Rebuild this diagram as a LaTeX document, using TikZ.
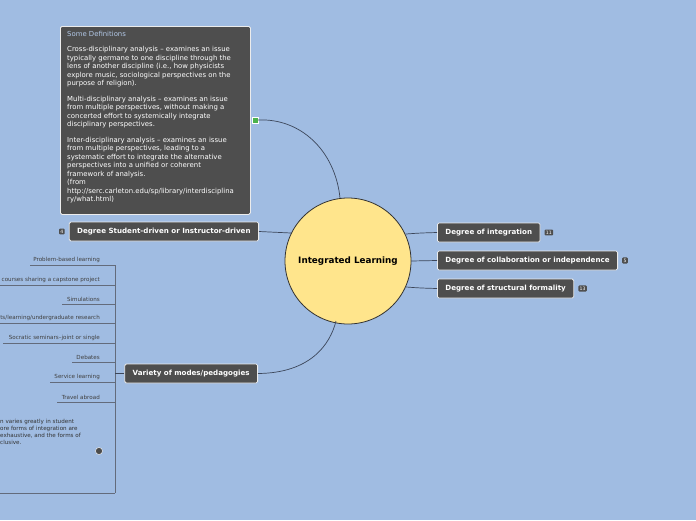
\documentclass[tikz,border=0pt]{standalone}
\usepackage{fontspec}
\setmainfont{DejaVu Sans}
\usepackage{tikz}
\definecolor{bg}{RGB}{160,188,226}
\definecolor{nd}{RGB}{78,78,78}
\definecolor{ctr}{RGB}{255,229,140}
\definecolor{ln}{RGB}{60,70,90}
\begin{document}
\begin{tikzpicture}[x=1pt,y=-1pt,
 topic/.style={draw=white!85!gray,line width=0.8pt,fill=nd,rounded corners=1.5pt,text=white,font=\fontsize{7.1}{8}\selectfont\bfseries,minimum height=19pt,inner xsep=8pt,anchor=west},
 badge/.style={fill=nd,rounded corners=1pt,text=white,font=\fontsize{4.6}{4}\selectfont,inner sep=1.3pt},
 item/.style={font=\fontsize{5.6}{6}\selectfont,text=black!75,anchor=south east,inner sep=1pt},
 ul/.style={draw=ln!80,line width=0.5pt},
 conn/.style={draw=ln,line width=0.7pt}]
\useasboundingbox[fill=bg] (0,0) rectangle (696,520);
\clip (0,0) rectangle (696,520);
% center
\node[circle,draw=black!80,line width=0.8pt,fill=ctr,minimum size=126pt,font=\fontsize{8.8}{9}\selectfont\bfseries] (c) at (348,261) {Integrated Learning};
% right
\node[topic] (r1) at (437,232.5) {Degree of integration};
\node[topic] (r2) at (437,260.5) {Degree of collaboration or independence};
\node[topic] (r3) at (437,288.5) {Degree of structural formality};
\node[badge,anchor=west] at ([xshift=4pt]r1.east) {11};
\node[badge,anchor=west] at ([xshift=4pt]r2.east) {5};
\node[badge,anchor=west] at ([xshift=4pt]r3.east) {13};
\draw[conn] (406,234) .. controls (420,233) .. (r1.west);
\draw[conn] (411,261) -- (r2.west);
\draw[conn] (406,287) .. controls (420,288) .. (r3.west);
% left
\node[topic,anchor=east] (l1) at (259,231.5) {Degree Student-driven or Instructor-driven};
\node[badge,anchor=east] at ([xshift=-4pt]l1.west) {4};
\draw[conn] (l1.east) .. controls (275,232) .. (291,233);
\node[topic,anchor=east] (l2) at (258,373.5) {Variety of modes/pedagogies};
\draw[conn] (l2.east) .. controls (310,373) and (330,345) .. (336,321);
% definitions
\node[draw=white!85!gray,line width=0.8pt,fill=nd,rounded corners=1.5pt,anchor=north west,minimum width=190pt,minimum height=188pt,inner sep=0pt] (def) at (60,26) {};
\node[anchor=north west,text=white,font=\fontsize{6.9}{8.5}\selectfont,align=left,inner sep=0pt] at (67,31) {\textcolor{bg!80!white}{Some Definitions}\\[7pt]
Cross-disciplinary analysis – examines an issue\\typically germane to one discipline through the\\lens of another discipline (i.e., how physicists\\explore music, sociological perspectives on the\\purpose of religion).\\[7pt]
Multi-disciplinary analysis – examines an issue\\from multiple perspectives, without making a\\concerted effort to systemically integrate\\disciplinary perspectives.\\[7pt]
Inter-disciplinary analysis – examines an issue\\from multiple perspectives, leading to a\\systematic effort to integrate the alternative\\perspectives into a unified or coherent\\framework of analysis.\\(from\\http://serc.carleton.edu/sp/library/interdisciplina\\ry/what.html)};
\node[fill=green!40!gray,draw=white,line width=0.3pt,minimum size=6pt,inner sep=0pt] (ic) at (255,120) {};
\draw[conn] (ic.east) .. controls (300,118) and (335,150) .. (340,198);
% list
\coordinate (vt) at (115,265); \coordinate (vb) at (115,493);
\draw[ul] (vt) -- (vb);
\draw[conn] (l2.west) -- (115,373.5);
\foreach \y/\x/\t in {265/30/{Problem-based learning},285/0/{l courses sharing a capstone project},304/62/{Simulations},323/0/{ts/learning/undergraduate research},343/3/{Socratic seminars--joint or single},362/72/{Debates},382/50/{Service learning},402/57/{Travel abroad}}{
 \draw[ul] (\x,\y) -- (115,\y);
 \node[item] at (101,\y-1) {\t};
}
\draw[ul] (0,493) -- (115,493);
\node[anchor=north west,font=\fontsize{5.6}{7}\selectfont,text=black!80,align=left,inner sep=0pt] at (0,419) {n varies greatly in student\\ore forms of integration are\\exhaustive, and the forms of\\clusive.};
\node[circle,fill=black!70,minimum size=7pt,inner sep=0pt,draw=white,line width=0.4pt] at (99,451) {};
\end{tikzpicture}
\end{document}
